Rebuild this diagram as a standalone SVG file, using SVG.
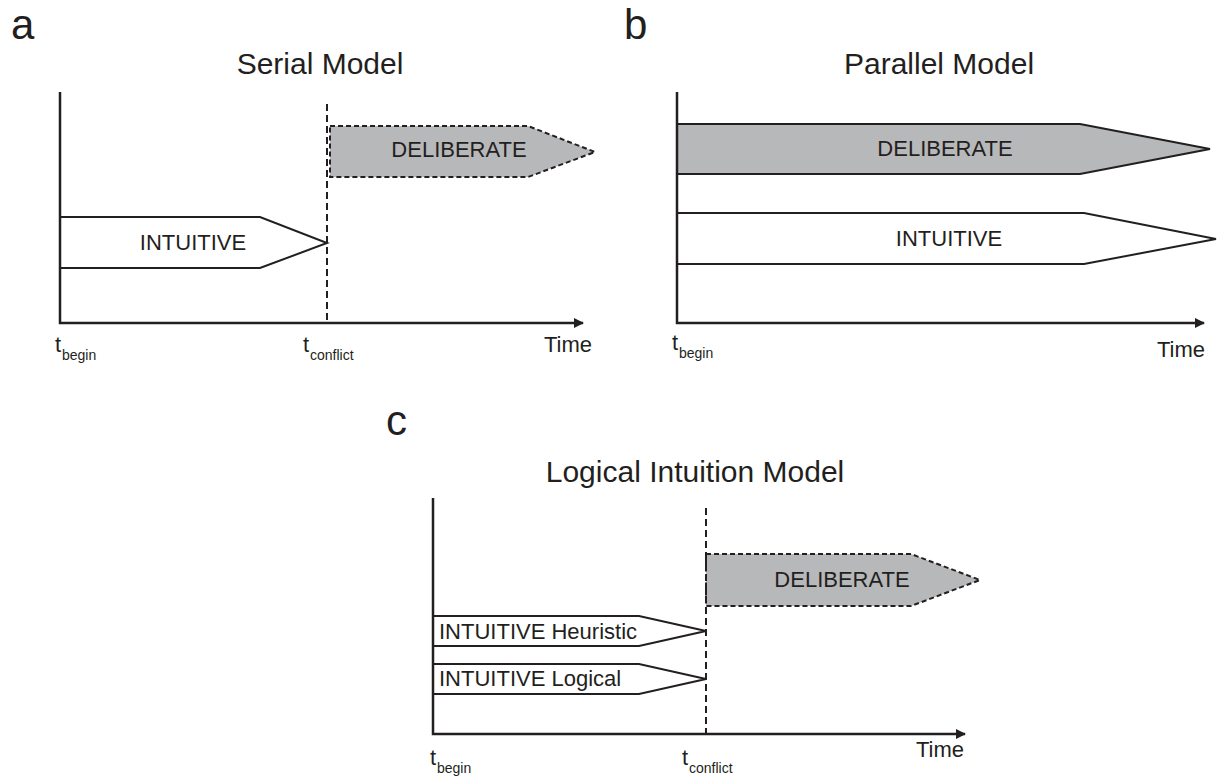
<svg xmlns="http://www.w3.org/2000/svg" width="1217" height="776" viewBox="0 0 1217 776">
<style>
text{font-family:"Liberation Sans",Arial,sans-serif;fill:#231f20}
.panel{font-size:42px}
.title{font-size:30px;text-anchor:middle}
.lbl{font-size:22px;text-anchor:middle}
.lblL{font-size:22px}
.t{font-size:22px}
.sub{font-size:14px}
.axis{stroke:#231f20;stroke-width:2.5;fill:none}
.dash{stroke:#231f20;stroke-width:2;stroke-dasharray:7,4;fill:none}
.box{stroke:#231f20;stroke-width:2;fill:#ffffff}
.gray{stroke:#231f20;stroke-width:2;fill:#b7b8ba}
.grayd{stroke:#231f20;stroke-width:2;fill:#b7b8ba;stroke-dasharray:5,3}
</style>
<defs>
<marker id="arr" viewBox="0 0 10 10" refX="9" refY="5" markerWidth="10" markerHeight="10" markerUnits="userSpaceOnUse" orient="auto"><path d="M0,0 L10,5 L0,10 z" fill="#231f20"/></marker>
</defs>

<g id="panel-a">
<text class="panel" x="11" y="39">a</text>
<text class="title" x="320" y="74">Serial Model</text>
</g>
<g id="a-deliberate">
<polygon class="grayd" points="330,126 528,126 595,152 528,177 330,177"/>
<text class="lbl" x="459" y="157">DELIBERATE</text>
</g>
<g id="a-intuitive">
<polygon class="box" points="60,217 260,217 327,243 260,268 60,268"/>
<text class="lbl" x="193" y="250">INTUITIVE</text>
</g>
<g id="a-labels">
<text class="t" x="55" y="352">t</text><text class="sub" x="62" y="360">begin</text>
<text class="t" x="303" y="352">t</text><text class="sub" x="310" y="360">conflict</text>
<text class="t" x="544" y="352">Time</text>
</g>

<g id="panel-b">
<text class="panel" x="624" y="39">b</text>
<text class="title" x="939" y="74">Parallel Model</text>
</g>
<g id="b-deliberate">
<polygon class="gray" points="677,124 1080,124 1210,149 1080,174 677,174"/>
<text class="lbl" x="945" y="156">DELIBERATE</text>
</g>
<g id="b-intuitive">
<polygon class="box" points="677,213 1084,213 1216,239 1084,264 677,264"/>
<text class="lbl" x="949" y="246">INTUITIVE</text>
</g>
<g id="b-labels">
<text class="t" x="672" y="350">t</text><text class="sub" x="679" y="358">begin</text>
<text class="t" x="1157" y="357">Time</text>
</g>

<g id="panel-c">
<text class="panel" x="386" y="435">c</text>
<text class="title" x="695" y="482">Logical Intuition Model</text>
</g>
<g id="c-deliberate">
<polygon class="grayd" points="706,554 911,554 980,580 911,606 706,606"/>
<text class="lbl" x="842" y="587">DELIBERATE</text>
</g>
<g id="c-heuristic">
<polygon class="box" points="433,616 639,616 706,631 639,646 433,646"/>
<text class="lblL" x="439" y="639">INTUITIVE Heuristic</text>
</g>
<g id="c-logical">
<polygon class="box" points="433,664 639,664 706,679 639,694 433,694"/>
<text class="lblL" x="439" y="686">INTUITIVE Logical</text>
</g>
<g id="c-labels">
<text class="t" x="430" y="765">t</text><text class="sub" x="437" y="773">begin</text>
<text class="t" x="682" y="765">t</text><text class="sub" x="689" y="773">conflict</text>
<text class="t" x="916" y="757">Time</text>
</g>

<g id="connectors">
<path class="axis" d="M60,92 V323 H583" marker-end="url(#arr)"/>
<path class="dash" d="M327,104 V323"/>
<path class="axis" d="M677,92 V323 H1204" marker-end="url(#arr)"/>
<path class="axis" d="M433,498 V734 H965" marker-end="url(#arr)"/>
<path class="dash" d="M706,508 V734"/>
</g>
</svg>
